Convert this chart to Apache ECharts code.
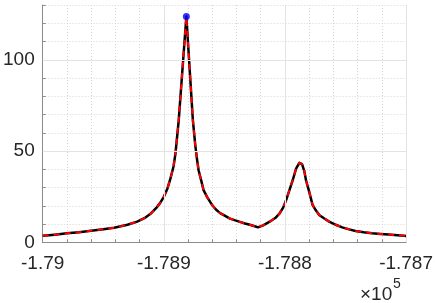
<!DOCTYPE html>
<html>
<head>
<meta charset="utf-8">
<script src="https://cdn.jsdelivr.net/npm/echarts@6/dist/echarts.min.js"></script>
<style>
html,body{margin:0;padding:0;background:#fff;}
#chart{width:436px;height:303px;}
</style>
</head>
<body>
<div id="chart"></div>
<script>
// Data
var xValues = [-179000, -178990, -178980, -178970, -178960, -178950, -178941, -178930, -178922, -178916, -178911, -178906, -178903, -178900, -178897, -178894.5, -178892, -178890.4, -178887.7, -178881.4, -178876, -178874, -178872.5, -178871.3, -178869, -178867.2, -178864, -178860.3, -178857, -178853.5, -178849, -178845.4, -178841, -178837.2, -178833, -178829, -178825, -178822.2, -178818, -178812.6, -178808, -178804.4, -178801.5, -178799, -178796.3, -178793.6, -178790.8, -178788.1, -178785.9, -178784, -178782.6, -178779.9, -178777.2, -178774.5, -178771.7, -178767.5, -178763.5, -178758, -178752.7, -178747, -178741.7, -178735, -178728.1, -178721, -178714.5, -178707, -178700];
var yValues = [3.6, 4.2, 4.9, 5.5, 6.3, 7.1, 8.0, 9.6, 11.3, 13.2, 15.6, 19.0, 21.6, 24.9, 29.5, 35, 41.5, 48.6, 66.8, 123.7, 66.8, 53, 45, 39.5, 33.5, 28.6, 24.5, 20.6, 18.0, 16.0, 14.3, 13.0, 12.0, 11.2, 10.3, 9.6, 8.8, 8.2, 9.3, 11.3, 13.3, 15.8, 19.0, 23.1, 28.6, 34, 40.4, 43.5, 42.8, 39, 34, 27.5, 20.5, 17.5, 15.0, 13.0, 11.3, 9.6, 8.2, 7.1, 6.2, 5.5, 4.9, 4.6, 4.3, 3.9, 3.5];
var peakPoint = [-178881.4, 123.7];
var xMajorTicks = [-179000, -178900, -178800, -178700];
var yMajorTicks = [0, 50, 100];

var lineData = xValues.map(function (x, i) { return [x, yValues[i]]; });
var textColor = '#262626';
var font = 'Liberation Sans, Arial, Helvetica, sans-serif';

var chart = echarts.init(document.getElementById('chart'), null, {renderer: 'canvas'});
chart.setOption({
  animation: false,
  grid: {left: 41, right: 29.3, top: 5, bottom: 60.7, containLabel: false},
  xAxis: {
    type: 'value', min: -179000, max: -178700, interval: 20,
    axisLine: {show: true, lineStyle: {color: '#8c8c8c', width: 1}},
    axisTick: {show: true, inside: true, length: 3, lineStyle: {color: '#8c8c8c'}},
    axisLabel: {
      color: textColor, fontSize: 19, fontFamily: font, margin: 12,
      formatter: function (v) {
        if (xMajorTicks.indexOf(v) < 0) return '';
        return String(parseFloat((v / 1e5).toFixed(4)));
      }
    },
    splitLine: {show: true, lineStyle: {color: '#d6d6d6', type: [1, 2], width: 1}}
  },
  yAxis: {
    type: 'value', min: 0, max: 130, interval: 10,
    axisLine: {show: true, lineStyle: {color: '#8c8c8c', width: 1}},
    axisTick: {show: true, inside: true, length: 3, lineStyle: {color: '#8c8c8c'}},
    axisLabel: {
      color: textColor, fontSize: 19, fontFamily: font, margin: 8,
      formatter: function (v) { return yMajorTicks.indexOf(v) >= 0 ? String(v) : ''; }
    },
    splitLine: {show: true, lineStyle: {color: '#d6d6d6', type: [1, 2], width: 1}}
  },
  series: [
    {
      type: 'line', data: lineData, showSymbol: false, smooth: false, z: 3,
      lineStyle: {color: '#000000', width: 2.5, join: 'round'},
      markLine: {
        silent: true, symbol: 'none', label: {show: false},
        lineStyle: {color: '#e3e3e3', type: 'solid', width: 1},
        data: yMajorTicks.slice(1).map(function (v) { return {yAxis: v}; })
          .concat(xMajorTicks.slice(1).map(function (v) { return {xAxis: v}; }))
      }
    },
    {
      type: 'line', data: lineData, showSymbol: false, smooth: false, z: 4,
      lineStyle: {color: '#ff0000', width: 2, type: [6, 5], join: 'round'}
    },
    {
      type: 'scatter', data: [peakPoint], symbolSize: 7, z: 5,
      itemStyle: {color: '#0000ff'}
    }
  ],
  graphic: [
    {type: 'text', x: 360, y: 295, style: {text: '×10', fontSize: 19, fontFamily: font, fill: textColor, verticalAlign: 'middle'}},
    {type: 'text', x: 393, y: 284, style: {text: '5', fontSize: 14, fontFamily: font, fill: textColor, verticalAlign: 'middle'}}
  ]
});
</script>
</body>
</html>
